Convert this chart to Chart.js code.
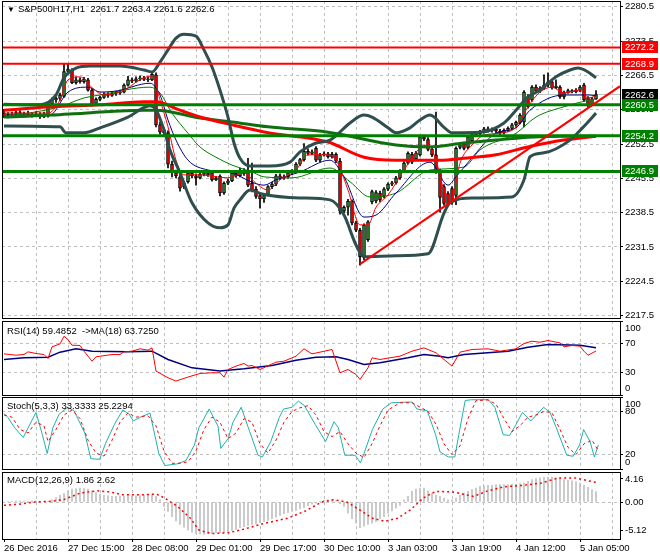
<!DOCTYPE html>
<html>
<head>
<meta charset="utf-8">
<script src="https://cdn.jsdelivr.net/npm/chart.js@4.4.1/dist/chart.umd.min.js"></script>
<style>
body { margin: 0; background: #fff; width: 660px; height: 560px; position: relative; overflow: hidden; font-family: "Liberation Sans", Arial, sans-serif; }
canvas { position: absolute; left: 0; }
.ttl { position: absolute; left: 7px; font-size: 9.5px; line-height: 12px; color: #000; white-space: pre; z-index: 5; }
.ttl b { font-weight: normal; font-size: 8px; margin-right: 3px; }
</style>
</head>
<body>
<canvas id="cMain" width="660" height="326" style="top:0px"></canvas>
<canvas id="cRsi" width="660" height="90" style="top:313px"></canvas>
<canvas id="cSto" width="660" height="88" style="top:389px"></canvas>
<canvas id="cMacd" width="660" height="96" style="top:464px"></canvas>
<div class="ttl" style="top:3px"><b>▼</b>S&amp;P500H17,H1  2261.7 2263.4 2261.6 2262.6</div>
<div class="ttl" style="top:325px">RSI(14) 59.4852  -&gt;MA(18) 63.7250</div>
<div class="ttl" style="top:400px">Stoch(5,3,3) 33.3333 25.2294</div>
<div class="ttl" style="top:474px">MACD(12,26,9) 1.86 2.62</div>
<script>
// ---- data (bar index 0 = 26 Dec 2016, one bar per hour) ----
const tickLabels = ['26 Dec 2016', '27 Dec 15:00', '28 Dec 08:00', '29 Dec 01:00', '29 Dec 17:00',
  '30 Dec 10:00', '3 Jan 03:00', '3 Jan 19:00', '4 Jan 12:00', '5 Jan 05:00'];
const priceTicks = [2280.5, 2273.5, 2266.5, 2259.5, 2252.5, 2245.5, 2238.5, 2231.5, 2224.5, 2217.5];

const opens = [2258.8,2258.2,2258.6,2258.4,2258.9,2258.5,2258.7,2258.4,2258.6,2258.3,2258.5,2258.2,2260.7,2261.5,2261.8,2262.2,2267.3,2267.6,2265.0,2265.6,
  2265.2,2265.6,2263.5,2260.8,2261.6,2262.0,2262.7,2262.4,2262.8,2262.9,2263.1,2264.5,2265.6,2265.3,2265.8,2266.0,2265.7,2265.6,2266.6,2256.4,
  2255.4,2254.8,2248.4,2246.6,2245.8,2243.8,2244.8,2246.5,2246.0,2245.6,2246.3,2246.5,2246.6,2245.2,2245.9,2242.5,2244.5,2245.0,2246.5,2246.0,
  2247.1,2247.2,2244.5,2243.3,2242.0,2241.3,2242.2,2243.8,2244.3,2246.0,2245.6,2245.8,2246.6,2246.9,2248.4,2249.3,2251.0,2250.6,2251.6,2249.2,
  2250.3,2250.5,2249.9,2250.4,2249.0,2238.8,2239.6,2240.8,2236.4,2234.9,2229.5,2233.0,2240.7,2240.9,2242.5,2241.8,2243.3,2244.3,2244.6,2245.6,
  2247.0,2248.6,2250.4,2249.5,2250.3,2253.9,2253.4,2251.4,2250.3,2247.0,2243.8,2242.4,2243.4,2242.0,2251.8,2252.6,2251.8,2253.2,2254.4,2254.6,
  2255.0,2255.6,2255.2,2255.5,2255.1,2254.8,2255.3,2255.7,2256.4,2256.9,2257.0,2262.1,2261.5,2264.1,2263.3,2263.9,2264.5,2265.2,2264.0,2264.1,
  2262.1,2263.0,2263.4,2263.2,2263.5,2264.5,2261.9,2260.6,2261.7];
const highs = [2259.6,2258.9,2259.0,2259.2,2259.3,2259.0,2259.2,2258.9,2259.1,2258.9,2259.0,2261.0,2261.9,2262.2,2262.9,2268.9,2268.9,2267.9,2266.2,2266.0,
  2266.1,2265.9,2263.8,2261.9,2262.3,2263.0,2263.0,2263.2,2263.3,2263.5,2264.8,2266.3,2266.0,2266.2,2266.4,2266.3,2266.2,2267.2,2267.0,2257.0,
  2255.8,2255.2,2249.0,2247.2,2246.2,2244.9,2247.0,2246.9,2246.4,2246.7,2246.9,2246.8,2246.9,2245.9,2246.2,2244.8,2245.4,2246.9,2246.8,2247.6,
  2247.5,2249.6,2248.6,2243.8,2242.4,2242.3,2244.0,2244.7,2246.3,2246.4,2246.2,2246.9,2247.3,2248.7,2249.6,2252.6,2251.5,2251.3,2252.0,2250.6,
  2250.9,2250.8,2250.8,2250.7,2249.6,2239.9,2241.2,2241.1,2236.8,2235.3,2236.2,2236.9,2243.1,2243.0,2242.9,2243.6,2244.6,2244.9,2245.9,2247.3,
  2248.9,2250.9,2250.8,2251.0,2254.2,2254.3,2253.8,2252.0,2259.0,2247.4,2244.2,2242.8,2243.8,2251.9,2252.7,2252.9,2254.2,2254.7,2254.9,2255.3,
  2255.9,2256.0,2255.8,2255.8,2255.5,2255.6,2256.0,2256.7,2257.2,2258.7,2263.4,2262.6,2264.4,2264.6,2264.2,2266.6,2267.0,2265.5,2265.6,2264.4,
  2263.3,2263.7,2263.6,2263.8,2264.4,2264.9,2262.2,2262.0,2263.4];
const lows = [2257.9,2257.8,2258.0,2258.1,2258.3,2258.0,2258.2,2258.0,2258.1,2257.7,2257.9,2258.0,2260.3,2261.0,2261.4,2262.0,2266.9,2264.8,2264.7,2264.9,
  2264.9,2263.3,2260.2,2260.5,2261.3,2261.8,2262.0,2262.2,2262.4,2262.6,2262.9,2264.3,2265.0,2265.1,2265.4,2265.4,2265.2,2265.4,2256.0,2254.5,
  2254.4,2247.6,2245.8,2245.6,2242.9,2243.4,2244.5,2245.6,2244.1,2245.4,2246.0,2245.9,2244.9,2245.0,2241.9,2242.2,2244.2,2244.8,2245.7,2245.8,
  2246.1,2243.8,2242.7,2241.4,2239.4,2240.6,2241.9,2243.4,2244.0,2245.2,2245.3,2245.5,2246.3,2246.6,2248.1,2249.0,2250.2,2250.3,2248.9,2248.9,
  2250.0,2249.6,2249.6,2248.7,2238.2,2238.5,2238.0,2236.0,2234.6,2227.8,2228.9,2232.6,2240.3,2240.5,2240.7,2241.5,2243.0,2244.0,2244.3,2245.3,
  2246.8,2248.4,2248.5,2249.2,2250.0,2253.2,2251.1,2249.9,2246.5,2238.6,2240.0,2239.8,2240.2,2240.1,2251.5,2251.3,2251.5,2252.9,2254.1,2254.3,
  2254.7,2254.9,2254.9,2254.8,2254.4,2254.5,2255.0,2255.4,2256.1,2256.6,2256.0,2259.8,2261.2,2263.0,2263.0,2263.6,2264.2,2263.7,2263.8,2261.8,
  2261.7,2262.8,2262.9,2262.9,2263.2,2261.2,2260.0,2260.3,2261.6];
const closes = [2258.2,2258.6,2258.4,2258.9,2258.5,2258.7,2258.4,2258.6,2258.3,2258.5,2258.2,2260.7,2261.5,2261.8,2262.5,2267.3,2267.8,2265.0,2265.6,2265.2,
  2265.7,2263.5,2260.5,2261.6,2262.0,2262.7,2262.4,2262.8,2262.9,2263.1,2264.5,2265.6,2265.3,2265.8,2266.0,2265.7,2265.6,2266.7,2256.4,2254.9,
  2254.8,2248.4,2246.6,2246.0,2243.5,2244.6,2246.5,2246.0,2245.6,2246.3,2246.5,2246.2,2245.2,2245.5,2242.5,2244.5,2245.0,2246.5,2246.0,2247.1,
  2246.4,2244.1,2243.0,2241.8,2241.3,2242.0,2243.8,2244.3,2246.0,2245.6,2245.8,2246.6,2246.9,2248.4,2249.3,2251.0,2250.6,2250.9,2249.2,2250.3,
  2250.5,2249.9,2250.4,2249.0,2238.8,2239.6,2240.8,2236.4,2234.9,2229.5,2235.9,2236.6,2242.8,2242.6,2241.1,2243.3,2244.3,2244.6,2245.6,2247.0,
  2248.6,2250.6,2248.8,2250.7,2253.9,2253.5,2251.4,2250.3,2246.8,2241.6,2240.4,2240.1,2240.6,2251.6,2252.4,2251.6,2253.9,2254.4,2254.6,2255.0,
  2255.6,2255.2,2255.5,2255.1,2254.8,2255.3,2255.7,2256.4,2256.9,2258.4,2263.1,2260.1,2264.1,2263.3,2263.9,2264.5,2265.2,2264.0,2264.3,2262.1,
  2263.0,2263.4,2263.2,2263.5,2264.1,2261.5,2260.5,2261.7,2262.6];

// indicator lines as [bar, value]
const bbUpper = [[0,2260.6],[9,2260.5],[13,2262.5],[15,2266.0],[18,2268.0],[21.5,2268.4],[29,2268.4],[35,2267.6],[37,2267.2],[39,2269.2],
  [41,2271.7],[43,2274.1],[45,2274.9],[48,2274.5],[50,2271.7],[52,2268.2],[54,2263.5],[56,2258.0],[57.5,2252.7],[59,2249.6],[61.5,2248.0],
  [66.5,2248.0],[71.5,2248.8],[74,2250.9],[78,2252.7],[81.5,2253.3],[86.5,2256.8],[90,2258.4],[92,2258.0],[96,2255.8],[98,2254.8],
  [101.5,2255.8],[104,2257.4],[106.5,2258.4],[110,2255.9],[112,2254.8],[119,2254.9],[125,2256.8],[128,2259.4],[131,2262.1],[134,2263.5],
  [138,2266.2],[141.5,2267.6],[143.5,2268.0],[146,2267.2],[148,2266.0]];
const bbLower = [[0,2256.2],[14,2256.0],[15.5,2254.8],[20,2254.8],[24,2255.8],[31,2258.0],[36.5,2260.3],[38,2259.5],[40,2255.4],[41.5,2251.3],
  [44,2246.6],[47,2240.5],[51,2236.4],[54,2235.4],[56,2236.0],[57.5,2239.4],[59,2241.1],[61.5,2243.1],[64.5,2242.3],[74,2241.5],[81.5,2241.1],
  [85,2238.0],[88,2231.9],[90,2229.5],[98,2229.7],[106,2230.1],[110,2238.4],[111.5,2240.5],[117,2241.5],[127,2241.7],[130,2245.2],
  [131.5,2249.9],[135,2250.7],[141.5,2253.3],[144.75,2255.9],[148,2258.8]];
const maSlowRed = [[0,2259.4],[12,2260.1],[24,2260.5],[35,2261.1],[38,2261.1],[44,2259.4],[49,2258.0],[57,2256.4],[66,2254.8],[81,2252.9],
  [90,2249.8],[98,2249.2],[109,2249.2],[115,2249.6],[123,2250.3],[131,2251.9],[140,2253.3],[148,2254.1]];
const maSlowGreen = [[0,2258.0],[12,2258.4],[20,2258.8],[35,2259.4],[38,2259.4],[49,2257.8],[57,2257.0],[66,2256.0],[81,2254.9],[98,2252.3],
  [106,2251.9],[115,2252.7],[123,2253.3],[131,2253.9],[140,2254.1],[148,2254.1]];
const maFast = [[0,2258.8],[11,2258.8],[14,2261.5],[16,2265.6],[19,2266.2],[22,2264.0],[25,2262.5],[30,2263.5],[34,2265.6],[37,2266.4],
  [39,2261.5],[41,2256.0],[43,2249.2],[45,2246.2],[49,2246.2],[53,2245.8],[56,2245.6],[60,2246.6],[63,2244.5],[66,2243.1],[69,2245.2],
  [73,2247.2],[76,2250.3],[80,2250.3],[83,2249.2],[86,2243.1],[89,2236.0],[91,2236.0],[93,2239.6],[96,2242.1],[100,2247.2],[104,2251.7],
  [106,2252.3],[108,2249.2],[110,2243.1],[112,2241.5],[114,2248.6],[117,2252.3],[120,2254.3],[125,2254.8],[128,2256.0],[131,2260.1],
  [134,2263.1],[137,2264.1],[140,2262.9],[144,2263.5],[146,2261.9],[148,2262.3]];
const maMid = [[0,2258.0],[11.5,2258.4],[16,2263.1],[21,2264.1],[24,2263.1],[28,2263.3],[36.5,2264.9],[39,2262.5],[41,2257.4],[43,2253.3],
  [46,2249.2],[51,2247.2],[57,2246.6],[62,2244.7],[65,2244.1],[68,2245.2],[74,2246.8],[81.5,2249.2],[85,2245.8],[90,2237.6],[93,2238.0],
  [98,2242.5],[106.5,2248.8],[111,2244.1],[113,2245.8],[116.5,2249.2],[123,2254.7],[128,2255.8],[131.5,2259.4],[140,2262.5],[146.5,2262.5],
  [148,2262.3]];
const maSlowThin = [[0,2258.0],[14,2260.1],[20,2261.9],[24,2262.5],[36.5,2264.1],[39,2262.9],[42,2258.8],[46,2254.7],[49,2251.9],[53,2249.8],
  [57,2248.2],[62,2246.8],[65,2245.8],[72,2245.6],[81.5,2247.6],[86.5,2244.8],[91.5,2241.7],[98,2242.5],[106.5,2247.2],[115,2247.8],
  [119,2251.3],[128,2254.7],[133,2258.0],[140,2260.1],[146.5,2261.5],[148,2261.7]];

const resistLevels = [2272.2, 2268.9];
const supportLevels = [2260.5, 2254.2, 2246.9];
const lastPrice = 2262.6;
const trendLine = [[89, 2228.0], [154, 2264.3]];

const rsi = [[0,55.6],[3,53.8],[5,54.7],[6,58.3],[8,56.1],[10,54.7],[11,49.3],[12,65.1],[14,69.1],[15,79.4],[16,74.9],[17,67.3],[19,66.9],
  [20,59.2],[22,45.7],[23,51.6],[27,54.7],[29,54.7],[30,58.3],[32,59.2],[34,62.4],[36,60.6],[37,63.7],[38,32.3],[41,23.3],[43,18.8],
  [46,24.2],[49,29.1],[52,30.0],[54,30.0],[55,24.2],[56,34.5],[58,39.0],[60,42.6],[61,39.0],[62,39.9],[64,34.5],[68,44.4],[70,45.7],
  [73,52.5],[75,62.4],[77,55.6],[79,57.9],[82,61.5],[84,30.0],[86,34.5],[88,27.8],[89,21.0],[91,36.7],[92,50.2],[94,48.0],[99,52.5],
  [102,59.2],[105,63.7],[108,57.0],[111,43.5],[112,39.0],[114,57.9],[117,61.5],[121,62.4],[124,59.2],[128,62.4],[130,69.6],[132,72.7],
  [134,71.3],[136,73.6],[139,70.4],[140,65.1],[142,66.9],[144,66.0],[145,59.2],[146,53.8],[148,59.5]];
const rsiMa = [[0,48.0],[5,50.2],[11,51.1],[14,57.9],[18,62.4],[22,59.2],[31,58.3],[37,59.2],[41,48.0],[47,36.7],[54,32.3],[60,35.4],
  [67,39.9],[73,47.1],[78,51.1],[83,51.6],[86,48.0],[90,41.3],[94,43.5],[101,50.2],[105,54.7],[109,52.5],[111,50.2],[115,54.7],
  [126,59.2],[131,64.6],[136,68.2],[144,67.3],[148,63.7]];
const rsiTicks = [100, 70, 30, 0];

const stochMain = [[0,77.1],[1,71.4],[2.7,57.1],[4.8,43.8],[6.9,66.7],[8,78.6],[9.6,47.6],[10.8,21.5],[12.2,57.1],[13.8,76.2],[15.9,85.7],
  [17.5,81.0],[20.2,50.0],[21.7,14.3],[23.9,13.4],[25.4,35.7],[27.6,61.9],[29.7,81.9],[31.3,76.2],[32.3,66.7],[33.9,71.4],[36.5,77.6],
  [38.7,21.5],[40.2,4.8],[43.4,7.2],[45.5,11.9],[47.6,33.4],[48.7,57.1],[51.3,83.3],[53.5,59.5],[54.2,28.6],[56.1,42.9],[57.2,64.3],
  [59.3,85.7],[61.4,52.4],[63.5,19.1],[64.6,16.7],[66.7,38.1],[68.8,71.4],[69.9,83.3],[72,85.7],[73.6,94.3],[75.1,88.1],[77.8,61.9],
  [80.4,38.1],[82.5,65.7],[83.6,57.1],[85.2,19.1],[87.8,19.1],[89.1,8.6],[90,21.5],[92.1,54.8],[94.7,83.3],[96.8,91.9],[100.5,92.9],
  [102.1,92.9],[103.2,83.3],[105.8,81.0],[107.9,47.6],[109,23.8],[111.1,16.7],[112.7,16.7],[113.7,47.6],[115.3,95.2],[116.9,96.2],
  [121.1,96.2],[122.7,85.7],[124.8,47.6],[126.4,46.7],[128,61.9],[129.6,78.6],[131.7,66.7],[134.9,85.7],[136.5,78.6],[138.1,57.1],
  [139.7,33.4],[140.7,19.1],[142.3,17.7],[143.9,33.4],[144.9,54.8],[146.5,38.1],[147.6,16.7],[148.6,33.3]];
const stochSignal = [[0,75],[2,72],[4,55],[6,50],[8,65],[10,60],[11,38],[13,55],[15,75],[17,82],[19,70],[21,40],[23,22],[25,18],[27,40],
  [29,65],[31,78],[33,72],[36,74],[38,60],[40,25],[42,8],[44,8],[46,10],[48,25],[50,55],[52,72],[54,65],[56,42],[58,50],[60,70],[62,65],
  [64,35],[66,22],[68,40],[70,65],[72,80],[74,85],[76,88],[78,75],[80,52],[82,45],[84,52],[86,35],[88,22],[90,16],[92,35],[94,60],[96,82],
  [99,92],[102,92],[104,86],[106,80],[108,62],[110,35],[112,20],[114,32],[116,70],[118,95],[121,96],[123,90],[125,70],[127,52],[129,60],
  [131,72],[133,75],[135,80],[137,78],[139,55],[141,30],[143,20],[145,35],[147,40],[148.6,25.2]];
const stochTicks = [100, 80, 20, 0];

const macdHist = [0.0,0.1,0.1,0.2,0.2,0.2,0.1,0.2,0.2,0.1,0.1,0.1,0.4,0.8,1.2,1.5,2.0,2.3,2.4,2.5,
  2.4,2.3,2.0,1.7,1.4,1.2,1.1,1.0,1.0,1.0,1.0,1.1,1.1,1.1,1.1,1.2,1.2,1.3,1.0,0.4,
  -0.8,-1.7,-2.6,-3.4,-4.0,-4.5,-5.0,-5.4,-5.6,-5.7,-5.8,-5.7,-5.6,-5.5,-5.5,-5.5,-5.3,-5.1,-4.9,-4.6,
  -4.4,-4.2,-4.0,-3.9,-3.7,-3.5,-3.3,-3.0,-2.7,-2.4,-2.1,-1.9,-1.7,-1.5,-1.2,-1.0,-0.7,-0.4,-0.2,0.1,
  0.3,0.4,0.4,0.2,-0.3,-0.8,-2.0,-3.0,-3.8,-4.6,-4.3,-4.0,-3.8,-3.5,-3.0,-2.6,-2.0,-1.6,-1.1,-0.6,
  0.4,1.0,1.9,2.3,2.5,2.5,2.0,1.5,1.2,1.0,0.7,0.4,0.4,0.7,1.2,1.6,1.9,2.2,2.5,2.8,
  2.9,3.0,3.0,3.1,3.1,3.1,3.1,3.2,3.2,3.3,3.4,3.7,4.0,4.2,4.3,4.4,4.4,4.4,4.3,4.2,
  4.0,3.9,3.8,3.6,3.4,3.0,2.6,2.2,1.86];
const macdSignal = [[0,-0.6],[4.3,-0.36],[7.5,0],[11.7,0.12],[14.9,0.42],[19.1,1.6],[23.3,2.0],[26.5,1.8],[29.7,1.3],[35,1.3],[38.1,1.4],
  [40.2,0.7],[43.4,-0.8],[46.6,-2.9],[48.7,-5.0],[51.9,-5.65],[56.1,-5.5],[60.3,-4.8],[64.6,-3.9],[70.9,-2.9],[75.1,-1.7],[79.4,0],
  [82.5,0.42],[85.7,0],[88.9,-1.4],[92.1,-2.9],[95.2,-3.45],[98.4,-2.9],[101.6,-1.4],[104.8,0.7],[107.9,1.9],[112.2,1.8],[117.4,1.0],
  [120.6,1.9],[124.8,2.7],[130.1,3.0],[134.4,3.4],[138.6,4.3],[142.8,4.3],[146,3.8],[148,3.5]];
const macdTicks = [4.16, 0, -5.12];
const macdTickLabels = ['4.16', '0.00', '-5.12'];

// ---- chart setup ----
Chart.defaults.font.family = '"Liberation Sans", Arial, sans-serif';
Chart.defaults.font.size = 9.5;
Chart.defaults.color = '#000';

const CLEAR = 'rgba(0,0,0,0)';
const GRID = '#c0c0c0';
const xGrid = [];
for (let k = 0; k <= 152; k += 8) xGrid.push(k);
const pts = arr => arr.map(p => ({ x: p[0], y: p[1] }));

function xAxis(withLabels) {
  return {
    type: 'linear', min: -0.5, max: 154, offset: false,
    afterBuildTicks: s => { s.ticks = xGrid.map(v => ({ value: v })); },
    afterFit: s => { s.height = withLabels ? 21 : 0; },
    border: { display: false, dash: [3, 3] },
    grid: {
      offset: false, drawTicks: withLabels, tickLength: 3, tickBorderDash: [],
      color: c => (c.tick && c.tick.value > 0) ? GRID : CLEAR,
      tickColor: c => (c.tick && c.tick.value % 16 === 0) ? '#000' : CLEAR
    },
    ticks: {
      display: withLabels, autoSkip: false, maxRotation: 0, minRotation: 0, align: 'start', padding: 1,
      callback: v => v % 16 === 0 ? tickLabels[v / 16] : ''
    }
  };
}

function yAxis(min, max, tickVals, gridVals) {
  return {
    position: 'right', min: min, max: max,
    afterBuildTicks: s => { s.ticks = tickVals.map(v => ({ value: v })); },
    afterFit: s => { s.width = 40; },
    border: { display: false, dash: [3, 3] },
    grid: {
      tickLength: 3, tickBorderDash: [], tickColor: '#000',
      color: c => (c.tick && (!gridVals || gridVals.indexOf(c.tick.value) >= 0)) ? GRID : CLEAR
    },
    ticks: { display: false }
  };
}

// black frame round each pane
const frame = {
  id: 'frame',
  afterDraw(c) {
    const a = c.chartArea, g = c.ctx;
    g.save();
    g.strokeStyle = '#000';
    g.lineWidth = 1;
    g.strokeRect(Math.round(a.left) + 0.5, Math.round(a.top) + 0.5, Math.round(a.right - a.left), Math.round(a.bottom - a.top));
    g.restore();
  }
};

// right-side axis labels, kept inside the pane like the terminal does
const sideLabels = {
  id: 'sideLabels',
  afterDraw(c, args, o) {
    if (!o.values) return;
    const s = c.scales.y, a = c.chartArea, g = c.ctx, m = o.margin || 7;
    g.save();
    g.font = '9.5px "Liberation Sans", Arial, sans-serif';
    g.fillStyle = '#000';
    g.textBaseline = 'middle';
    g.textAlign = 'left';
    o.values.forEach((v, k) => {
      let y = s.getPixelForValue(v);
      y = Math.min(Math.max(y, a.top + m), a.bottom - m);
      g.fillText(o.labels[k], a.right + 5, y);
    });
    g.restore();
  }
};

// coloured price boxes on the price axis
const priceBoxes = {
  id: 'priceBoxes',
  afterDraw(c, args, o) {
    if (!o.items) return;
    const s = c.scales.y, a = c.chartArea, g = c.ctx;
    g.save();
    g.font = '9.5px "Liberation Sans", Arial, sans-serif';
    g.textBaseline = 'middle';
    g.textAlign = 'left';
    o.items.forEach(it => {
      const y = Math.round(s.getPixelForValue(it.v));
      g.fillStyle = it.bg;
      g.fillRect(a.right + 2, y - 6, 36, 12);
      g.fillStyle = '#fff';
      g.fillText(it.v.toFixed(1), a.right + 5, y + 0.5);
    });
    g.restore();
  }
};

const baseOpts = (padTop, padBottom) => ({
  responsive: false, animation: false, devicePixelRatio: 1,
  layout: { padding: { left: 2, right: 0, top: padTop, bottom: padBottom } },
  plugins: { legend: { display: false }, tooltip: { enabled: false } },
  events: []
});

const lineDs = (data, color, width, order, extra) => Object.assign({
  type: 'line', data: pts(data), borderColor: color, borderWidth: width,
  pointRadius: 0, fill: false, order: order
}, extra || {});

const flat = v => [[-0.5, v], [154, v]];
const BULL = '#2e8b2e', BEAR = '#ff0000';
const idx = closes.map((_, i) => i);
const smooth = { cubicInterpolationMode: 'monotone' };

// ---- main price pane ----
const mainDatasets = [
  {
    type: 'bar', data: idx.map(i => ({ x: i, y: [opens[i], closes[i]] })),
    backgroundColor: c => closes[c.dataIndex] >= opens[c.dataIndex] ? BULL : BEAR,
    borderColor: '#000', borderWidth: 1, borderSkipped: false, barThickness: 3,
    minBarLength: 1, grouped: false, order: 4
  },
  {
    type: 'bar', data: idx.map(i => ({ x: i, y: [lows[i], highs[i]] })),
    backgroundColor: '#000', borderWidth: 0, barThickness: 1, grouped: false, order: 5
  },
  lineDs(flat(lastPrice), '#c0c0c0', 1, 6),
  lineDs(maFast, '#ff0000', 1, 3, smooth),
  lineDs(maMid, '#000080', 1, 3, smooth),
  lineDs(maSlowThin, '#008000', 1, 3, smooth),
  lineDs(maSlowRed, '#ff0000', 3, 2, smooth),
  lineDs(maSlowGreen, '#107010', 3, 2, smooth),
  lineDs(bbUpper, '#2f4f4f', 3, 1, smooth),
  lineDs(bbLower, '#2f4f4f', 3, 1, smooth),
  lineDs(trendLine, '#ff0000', 2, 0)
];
resistLevels.forEach(v => mainDatasets.push(lineDs(flat(v), '#ff0000', 2, 0)));
supportLevels.forEach(v => mainDatasets.push(lineDs(flat(v), '#008000', 3, 0)));

const mainOpts = baseOpts(1, 8);
mainOpts.scales = { x: xAxis(false), y: yAxis(2217.0, 2281.68, priceTicks, null) };
mainOpts.plugins.sideLabels = { values: priceTicks, labels: priceTicks.map(v => v.toFixed(1)), margin: 2 };
mainOpts.plugins.priceBoxes = {
  items: resistLevels.map(v => ({ v: v, bg: '#ff0000' }))
    .concat([{ v: lastPrice, bg: '#000' }])
    .concat(supportLevels.map(v => ({ v: v, bg: '#008000' })))
};
new Chart(document.getElementById('cMain'), {
  type: 'line', data: { datasets: mainDatasets }, options: mainOpts, plugins: [frame, sideLabels, priceBoxes]
});

// ---- RSI pane ----
const rsiOpts = baseOpts(8, 8);
rsiOpts.scales = { x: xAxis(false), y: yAxis(0, 100, rsiTicks, [70, 30]) };
rsiOpts.plugins.sideLabels = { values: rsiTicks, labels: rsiTicks.map(String) };
new Chart(document.getElementById('cRsi'), {
  type: 'line',
  data: { datasets: [lineDs(rsiMa, '#000080', 1.5, 1), lineDs(rsi, '#ff0000', 1, 0)] },
  options: rsiOpts, plugins: [frame, sideLabels]
});

// ---- Stochastic pane ----
const stoOpts = baseOpts(8, 8);
stoOpts.scales = { x: xAxis(false), y: yAxis(0, 100, stochTicks, [80, 20]) };
stoOpts.plugins.sideLabels = { values: stochTicks, labels: stochTicks.map(String) };
new Chart(document.getElementById('cSto'), {
  type: 'line',
  data: { datasets: [lineDs(stochMain, '#20b2aa', 1, 1), lineDs(stochSignal, '#ff0000', 1, 0, { borderDash: [3, 3] })] },
  options: stoOpts, plugins: [frame, sideLabels]
});

// ---- MACD pane ----
const macdOpts = baseOpts(8, 0);
macdOpts.scales = { x: xAxis(true), y: yAxis(-6.61, 5.36, macdTicks, [0]) };
macdOpts.plugins.sideLabels = { values: macdTicks, labels: macdTickLabels };
new Chart(document.getElementById('cMacd'), {
  type: 'line',
  data: {
    datasets: [
      { type: 'bar', data: idx.map(i => ({ x: i, y: macdHist[i] })), backgroundColor: '#c0c0c0', barThickness: 1, grouped: false, order: 1 },
      lineDs(macdSignal, '#ff0000', 1.5, 0, { borderDash: [2, 3] })
    ]
  },
  options: macdOpts, plugins: [frame, sideLabels]
});
</script>
</body>
</html>
